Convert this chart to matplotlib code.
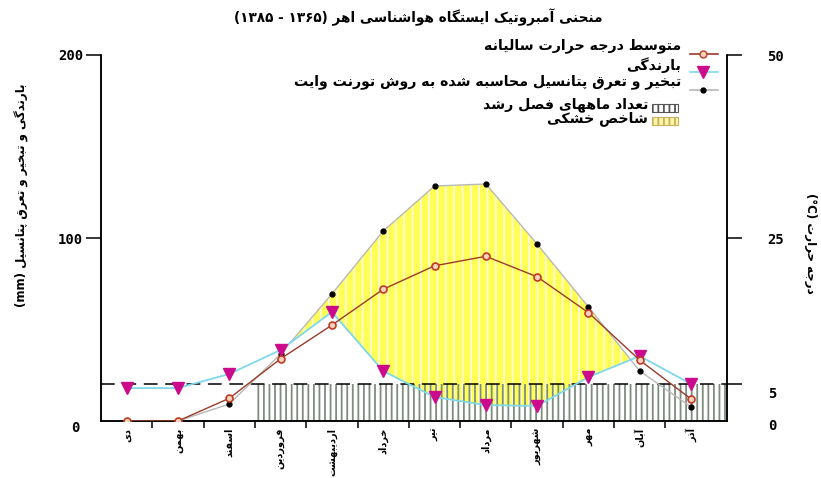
"""
ombrothermic chart, Ahar station (1365-1385)
"""
import re
import matplotlib
matplotlib.use('Agg')
import matplotlib.pyplot as plt
from matplotlib.lines import Line2D
from matplotlib.patches import Rectangle

months = ['دی', 'بهمن', 'اسفند', 'فروردین', 'اردیبهشت', 'خرداد',
          'تیر', 'مرداد', 'شهریور', 'مهر', 'آبان', 'آذر']
temp_c = [0.0, 0.0, 3.1, 8.5, 13.1, 18.0, 21.2, 22.5, 19.7, 14.8, 8.3, 3.0]
rain_mm = [18.0, 18.0, 25.7, 38.8, 59.6, 27.3, 13.1, 8.7, 8.2, 24.0, 35.5, 20.2]
pet_mm = [0.0, 0.0, 9.3, 36.6, 69.4, 103.8, 128.4, 129.5, 96.7, 62.3, 27.3, 7.7]
growth_start = 2.5      # growing season begins between esfand and farvardin
growth_temp = 5         # threshold temperature (C)

title = 'منحنی آمبروتیک ایستگاه هواشناسی اهر (۱۳۶۵ - ۱۳۸۵)'
legend_labels = ['متوسط درجه حرارت سالیانه', 'بارندگی',
                 'تبخیر و تعرق پتانسیل محاسبه شده به روش تورنت وایت',
                 'تعداد ماههای فصل رشد', 'شاخص خشکی']
ylabel_left = 'بارندگی و تبخیر و تعرق پتانسیل (mm)'
ylabel_right = 'درجه حرارت (°C)'

# --- tiny arabic/persian shaper, matplotlib has no text shaping ---
FORMS = {
    'ا': '\uFE8D\uFE8E', 'آ': '\uFE81\uFE82', 'د': '\uFEA9\uFEAA',
    'ذ': '\uFEAB\uFEAC', 'ر': '\uFEAD\uFEAE', 'ز': '\uFEAF\uFEB0',
    'ژ': '\uFB8A\uFB8B', 'و': '\uFEED\uFEEE',
    'ب': '\uFE8F\uFE90\uFE91\uFE92', 'پ': '\uFB56\uFB57\uFB58\uFB59',
    'ت': '\uFE95\uFE96\uFE97\uFE98', 'ج': '\uFE9D\uFE9E\uFE9F\uFEA0',
    'ح': '\uFEA1\uFEA2\uFEA3\uFEA4', 'خ': '\uFEA5\uFEA6\uFEA7\uFEA8',
    'س': '\uFEB1\uFEB2\uFEB3\uFEB4', 'ش': '\uFEB5\uFEB6\uFEB7\uFEB8',
    'ص': '\uFEB9\uFEBA\uFEBB\uFEBC', 'ط': '\uFEC1\uFEC2\uFEC3\uFEC4',
    'ع': '\uFEC9\uFECA\uFECB\uFECC', 'ف': '\uFED1\uFED2\uFED3\uFED4',
    'ق': '\uFED5\uFED6\uFED7\uFED8', 'ک': '\uFB8E\uFB8F\uFB90\uFB91',
    'گ': '\uFB92\uFB93\uFB94\uFB95', 'ل': '\uFEDD\uFEDE\uFEDF\uFEE0',
    'م': '\uFEE1\uFEE2\uFEE3\uFEE4', 'ن': '\uFEE5\uFEE6\uFEE7\uFEE8',
    'ه': '\uFEE9\uFEEA\uFEEB\uFEEC', 'ی': '\uFBFC\uFBFD\uFBFE\uFBFF',
}


def rtl(text):
    out = []
    for i, c in enumerate(text):
        if c not in FORMS:
            out.append(c)
            continue
        prev = text[i-1] if i > 0 else ''
        nxt = text[i+1] if i+1 < len(text) else ''
        jp = prev in FORMS and len(FORMS[prev]) == 4
        jn = nxt in FORMS and len(FORMS[c]) == 4
        f = FORMS[c]
        if jp and jn:
            out.append(f[3])
        elif jp:
            out.append(f[1])
        elif jn:
            out.append(f[2])
        else:
            out.append(f[0])
    s = ''.join(out)[::-1]
    s = re.sub(r'[0-9A-Za-z°۰-۹]+', lambda m: m.group(0)[::-1], s)
    return s.translate(str.maketrans('()', ')('))


W, H = 821, 478
def fx(px):
    return px / W
def fy(py):
    return 1 - py / H

plt.rcParams['font.family'] = ['DejaVu Sans']
plt.rcParams['hatch.linewidth'] = 1.3
num_font = dict(family='DejaVu Sans Mono', weight='bold', size=10)
fa_font = dict(fontsize=10.2, fontweight='bold')

fig = plt.figure(figsize=(W/100, H/100), dpi=100)
ax = fig.add_axes([fx(101), fy(421), fx(727) - fx(101), fy(55) - fy(421)])
x = list(range(len(months)))
ax.set_xlim(-0.5, 11.7)
ax.set_ylim(0, 200)

# drought area (pet above rain)
ax.fill_between(x, rain_mm, pet_mm, where=[p > r for p, r in zip(pet_mm, rain_mm)],
                interpolate=True, facecolor='#ffff55', edgecolor='#fffbd8',
                hatch='||', linewidth=0, zorder=1)
# growing season
ax.fill_between([growth_start, 11.7], 0, growth_temp*4, facecolor='none',
                edgecolor='#7d8d7d', hatch='|||', linewidth=0, zorder=2)
ax.axhline(growth_temp*4, color='black', lw=1.1, dashes=(9, 5), zorder=3)

ax.plot(x, pet_mm, color='#b8b8b8', lw=1, marker='o', ms=3.5,
        mfc='black', mec='black', zorder=4)
ax.plot(x, rain_mm, color='#7fd8ea', lw=1.3, marker='v', ms=8,
        mfc='#cc0a8c', mec='#cc0a8c', zorder=5)

ax2 = ax.twinx()
ax2.set_ylim(0, 50)
ax2.plot(x, temp_c, color='#9a3b2a', lw=1, marker='o', ms=5,
         mfc='#f6d2bc', mec='#c03a24', mew=1.2, zorder=6)

for a in (ax, ax2):
    a.spines['top'].set_visible(False)
    for s in a.spines.values():
        s.set_linewidth(1.1)

ax.set_xticks([k + 0.5 for k in range(11)])
ax.set_xticklabels([])
ax.tick_params(axis='x', which='major', length=5, width=1.1, direction='out')
ax.set_xticks(x, minor=True)
ax.set_xticklabels([rtl(m) for m in months], minor=True, rotation=90,
                   fontsize=7, fontweight='bold', va='top')
ax.tick_params(axis='x', which='minor', length=0, pad=5)

ax.set_yticks([100, 200])
ax.set_yticklabels(['100', '200'], **num_font)
ax.tick_params(axis='y', length=11, width=1.1, pad=2)
ax.text(-0.035, -0.018, '0', transform=ax.transAxes, ha='right', va='center', **num_font)

ax2.set_yticks([5, 25, 50])
ax2.set_yticklabels(['', '25', '50'], **num_font)
ax2.tick_params(axis='y', length=11, width=1.1, pad=18)
ax2.text(1.066, 0.075, '5', transform=ax.transAxes, ha='left', va='center', **num_font)
ax2.text(1.066, -0.015, '0', transform=ax.transAxes, ha='left', va='center', **num_font)

fig.text(fx(418), fy(17), rtl(title), ha='center', va='center', fontsize=9.8,
         fontweight='bold')
fig.text(fx(22), fy(195), rtl(ylabel_left), rotation=90, ha='center',
         va='center', fontsize=8.5, fontweight='bold')
fig.text(fx(810), fy(243), rtl(ylabel_right), rotation=-90, ha='center',
         va='center', fontsize=8.5, fontweight='bold')

# legend, drawn by hand (markers to the right of the labels)
line_cols = ['#9a3b2a', '#7fd8ea', '#b8b8b8']
marks = [dict(marker='o', ms=5, mfc='#f6d2bc', mec='#c03a24'),
         dict(marker='v', ms=8, mfc='#cc0a8c', mec='#cc0a8c'),
         dict(marker='o', ms=3.5, mfc='black', mec='black')]
for hy, ty, lab, col, mk in zip([54, 72, 90], [46, 65, 82], legend_labels[:3],
                                line_cols, marks):
    fig.add_artist(Line2D([fx(690), fx(718)], [fy(hy), fy(hy)], lw=1.2,
                          color=col, transform=fig.transFigure))
    fig.add_artist(Line2D([fx(703)], [fy(hy)], lw=0, transform=fig.transFigure, **mk))
    fig.text(fx(681), fy(ty), rtl(lab), ha='right', va='center', **fa_font)
boxes = [dict(facecolor='white', edgecolor='#555555', hatch='|||'),
         dict(facecolor='#fff6a8', edgecolor='#c8b060', hatch='|||')]
for by, ty, lab, kw in zip([108, 121], [105, 119], legend_labels[3:], boxes):
    fig.add_artist(Rectangle((fx(652), fy(by + 4)), fx(26), 8/H, lw=0.8,
                             transform=fig.transFigure, **kw))
    fig.text(fx(648), fy(ty), rtl(lab), ha='right', va='center', **fa_font)

fig.savefig('out.png', dpi=100)
